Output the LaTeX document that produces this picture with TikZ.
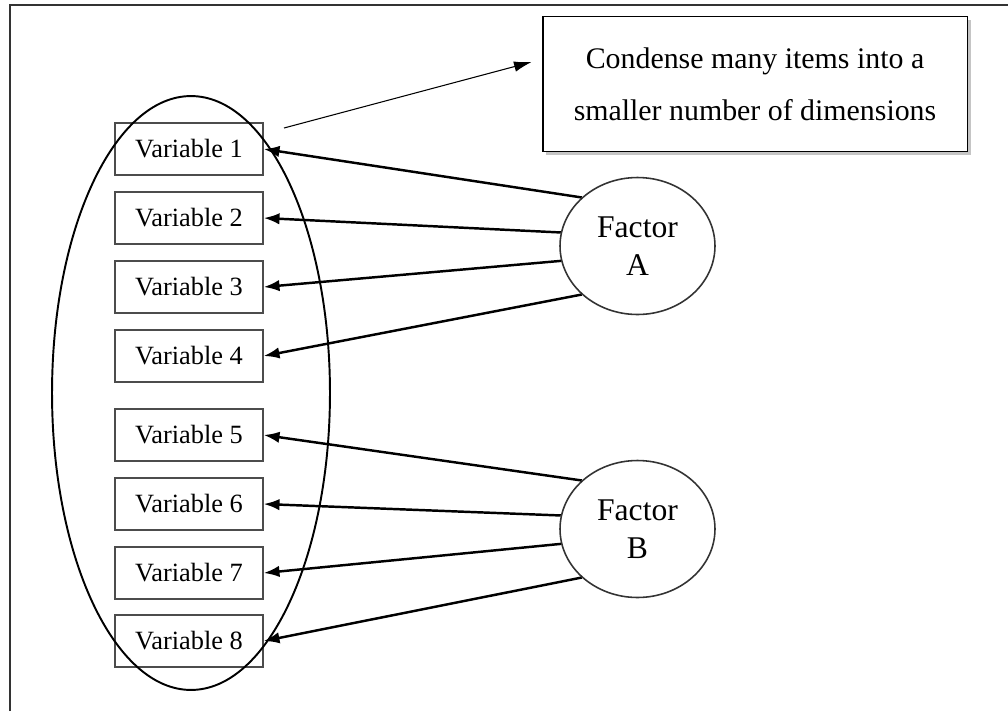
\documentclass[tikz,border=0pt]{standalone}
\usepackage{fontspec}
\setmainfont{Liberation Serif}
\usetikzlibrary{arrows.meta,positioning,shapes.geometric,shadows}

\begin{document}
\begin{tikzpicture}[x=0.02cm,y=-0.02cm,
  varbox/.style={draw=black!70,line width=0.8pt,fill=white,minimum width=2.96cm,minimum height=1.04cm,font=\fontsize{15}{17}\selectfont},
  factor/.style={ellipse,draw=black!80,line width=0.9pt,minimum width=3.1cm,minimum height=2.74cm,inner sep=0pt,align=center,font=\fontsize{18}{21.5}\selectfont},
  load/.style={-{Latex[length=9pt,width=6.5pt]},line width=1.4pt}]
  \useasboundingbox (0,0) rectangle (1008,711);
  % frame
  \draw[line width=1.7pt,black!80] (10,711) -- (10,5) -- (1008,5);

  % observed variables
  \node[varbox] (v1) at (189,149) {Variable 1};
  \node[varbox] (v2) at (189,218) {Variable 2};
  \node[varbox] (v3) at (189,287) {Variable 3};
  \node[varbox] (v4) at (189,356) {Variable 4};
  \node[varbox] (v5) at (189,435) {Variable 5};
  \node[varbox] (v6) at (189,504) {Variable 6};
  \node[varbox] (v7) at (189,573) {Variable 7};
  \node[varbox] (v8) at (189,641) {Variable 8};

  % grouping ellipse
  \node[ellipse,draw,line width=1.1pt,minimum width=5.56cm,minimum height=11.88cm] (group) at (191,393) {};

  % factors
  \node[factor] (fa) at (637.5,246) {Factor\\A};
  \node[factor] (fb) at (637.5,529) {Factor\\B};

  \draw[load] (fa.139) -- (v1.east);
  \draw[load] (fa.170) -- (v2.east);
  \draw[load] (fa.191) -- (v3.east);
  \draw[load] (fa.221) -- (v4.east);
  \draw[load] (fb.139) -- (v5.east);
  \draw[load] (fb.170) -- (v6.east);
  \draw[load] (fb.191) -- (v7.east);
  \draw[load] (fb.221) -- (v8.east);

  % note
  \node[draw,line width=1.1pt,fill=white,drop shadow={shadow xshift=2pt,shadow yshift=-2pt,fill=black!45},
    minimum width=8.5cm,minimum height=2.7cm,align=center,font=\fontsize{17}{29.5}\selectfont] (note) at (755,84) {Condense many items into a\\smaller number of dimensions};
  \coordinate (tail) at (284,128);
  \draw[-{Latex[length=10pt,width=6pt]},line width=0.6pt] (tail) -- ([shift={(-10,-22)}]note.west);
\end{tikzpicture}
\end{document}
